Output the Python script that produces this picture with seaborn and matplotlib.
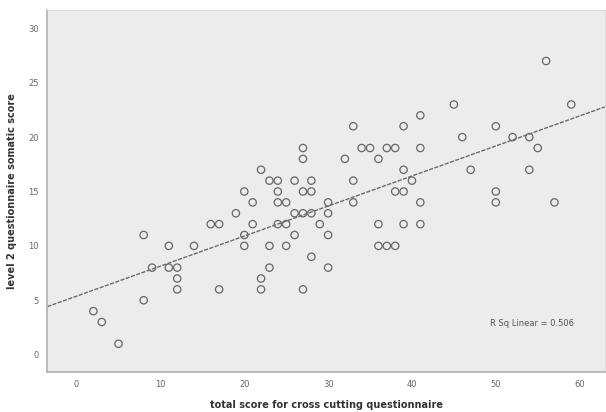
import numpy as np
import pandas as pd
import matplotlib
matplotlib.use("Agg")
import matplotlib.pyplot as plt
import seaborn as sns

# Data
cross_cutting = [2, 3, 5, 8, 8, 9, 11, 11, 12, 12, 12, 14, 16, 17, 17, 19, 20, 20, 20,
                 21, 21, 22, 22, 22, 23, 24, 24, 24, 25, 24, 25, 23, 23, 25, 26, 26, 26,
                 27, 27, 27, 27, 27, 28, 28, 28, 28, 29, 30, 30, 30, 30, 32, 33, 33, 33,
                 34, 35, 36, 36, 36, 37, 37, 38, 38, 38, 39, 39, 39, 39, 40, 41, 41, 41,
                 41, 45, 46, 47, 50, 50, 50, 52, 54, 54, 55, 56, 57, 59]
somatic = [4, 3, 1, 11, 5, 8, 10, 8, 8, 7, 6, 10, 12, 12, 6, 13, 15, 11, 10,
           14, 12, 17, 7, 6, 16, 16, 15, 14, 14, 12, 12, 10, 8, 10, 16, 13, 11,
           19, 18, 15, 13, 6, 16, 15, 13, 9, 12, 14, 13, 11, 8, 18, 21, 16, 14,
           19, 19, 18, 12, 10, 10, 19, 19, 10, 15, 15, 17, 21, 12, 16, 22, 19, 14,
           12, 23, 20, 17, 21, 15, 14, 20, 20, 17, 19, 27, 14, 23]
x_ticks = [0, 10, 20, 30, 40, 50, 60]
y_ticks = [0, 5, 10, 15, 20, 25, 30]

df = pd.DataFrame({"x": cross_cutting, "y": somatic})
r2 = 0.506

sns.set_style("white", {"axes.facecolor": "#ececec", "axes.edgecolor": "#b0b0b0"})
plt.rcParams["font.family"] = ["DejaVu Sans"]

fig = plt.figure(figsize=(6.06, 4.12), dpi=100)
ax = fig.add_axes([0.078, 0.097, 0.92, 0.879])
ax.set_xlim(-3.5, 63)
ax.set_ylim(-1.6, 31.7)

sns.regplot(data=df, x="x", y="y", scatter=False, ci=None, truncate=False, ax=ax,
            line_kws={"color": "#6a6a6a", "lw": 1.0, "linestyle": (0, (3, 1))})
sns.scatterplot(data=df, x="x", y="y", ax=ax, marker="o", s=28,
                facecolors="none", edgecolor="#666666", linewidth=0.9)

ax.set_xticks(x_ticks)
ax.set_yticks(y_ticks)
ax.tick_params(axis="both", direction="out", length=3, width=0.7, color="#999999",
               labelsize=6, labelcolor="#666666", pad=3)
ax.set_xlabel("total score for cross cutting questionnaire", fontsize=7,
              fontweight="bold", color="#333333", labelpad=8)
ax.set_ylabel("level 2 questionnaire somatic score", fontsize=7,
              fontweight="bold", color="#333333", labelpad=8)
for side in ["top", "right"]:
    ax.spines[side].set_color("#dddddd")
for side in ["left", "bottom"]:
    ax.spines[side].set_color("#b0b0b0")
    ax.spines[side].set_linewidth(1.2)

ax.text(0.945, 0.135, f"R Sq Linear = {r2:.3f}", transform=ax.transAxes,
        ha="right", va="center", fontsize=6, color="#555555")

fig.savefig("out.png", dpi=100)
